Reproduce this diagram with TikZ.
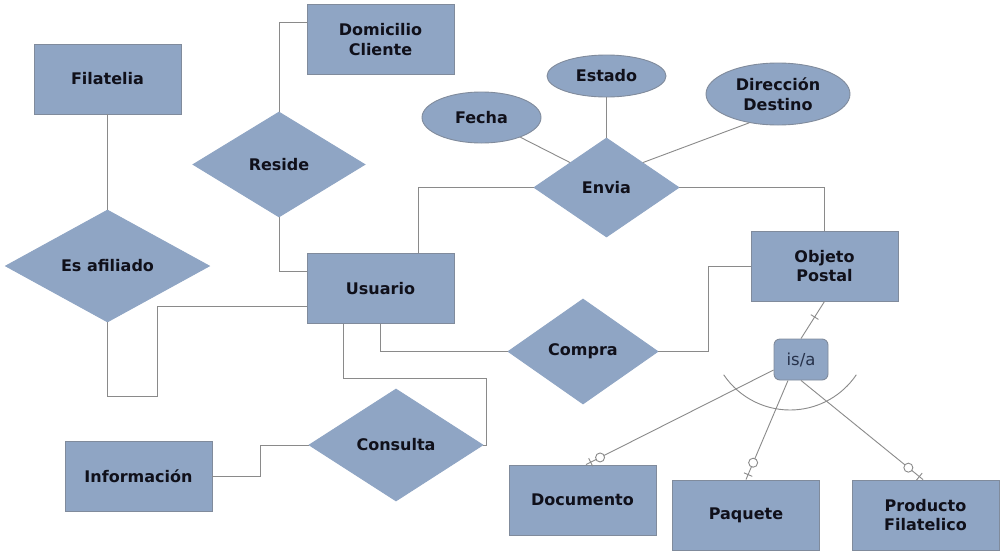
\documentclass[tikz,border=0pt]{standalone}
\usepackage{fontspec}
\setmainfont{DejaVu Sans}
\usetikzlibrary{shapes.geometric}
\definecolor{boxfill}{HTML}{8FA5C4}
\definecolor{boxline}{HTML}{808B9C}
\definecolor{linkgray}{HTML}{8A8A8A}
\definecolor{txt}{HTML}{10101A}
\definecolor{isatext}{HTML}{26314A}
\begin{document}
\begin{tikzpicture}[x=1pt,y=-1pt,
  base/.style={draw=boxline, fill=boxfill, line width=0.9pt, inner sep=0pt,
    text=txt, align=center, font=\fontsize{16}{19.5}\selectfont\bfseries},
  entity/.style={base, rectangle, minimum width=147pt, minimum height=70pt},
  rel/.style={base, diamond, shape aspect=1.8, draw=boxfill},
  attr/.style={base, ellipse},
  isabox/.style={base, rectangle, rounded corners=6pt, minimum width=54pt,
    minimum height=41pt, text=isatext, font=\fontsize{16.5}{20}\selectfont},
  link/.style={draw=linkgray, line width=0.9pt},
  circmark/.style={circle, draw=linkgray, fill=white, inner sep=0pt,
    minimum size=9pt, line width=0.9pt},
  tickmark/.style={rectangle, sloped, draw=linkgray, inner sep=0pt,
    minimum width=0pt, minimum height=9pt, line width=0.9pt}]
\useasboundingbox (0,0) rectangle (1004,555);
\fill[white] (0,0) rectangle (1004,555);

% entities
\node[entity] (fil) at (107.5,79) {Filatelia};
\node[entity] (dom) at (380.5,39.5) {Domicilio\\Cliente};
\node[entity] (usu) at (380.5,288.5) {Usuario};
\node[entity] (obj) at (824.5,266) {Objeto\\Postal};
\node[entity] (doc) at (582.5,500) {Documento};
\node[entity] (paq) at (746,515) {Paquete};
\node[entity] (pro) at (925.5,515) {Producto\\Filatelico};
\node[entity] (inf) at (138.5,476) {Información};

% relationships
\node[rel, minimum width=204pt, minimum height=112pt] (afi) at (107.5,266) {Es afiliado};
\node[rel, minimum width=172pt, minimum height=105pt] (res) at (279,164.5) {Reside};
\node[rel, minimum width=145pt, minimum height=99pt] (env) at (606.5,187.5) {Envia};
\node[rel, minimum width=150pt, minimum height=105pt] (com) at (583,351.5) {Compra};
\node[rel, minimum width=174pt, minimum height=112pt] (con) at (396,445) {Consulta};

% attributes
\node[attr, minimum width=119pt, minimum height=51pt] (fec) at (481.5,117.5) {Fecha};
\node[attr, minimum width=119pt, minimum height=42pt] (est) at (606.5,76) {Estado};
\node[attr, minimum width=144pt, minimum height=62pt] (dir) at (778,94) {Dirección\\Destino};

% is/a
\node[isabox] (isa) at (801,359.5) {is/a};

% bend points
\coordinate (a1) at (157,396);
\coordinate (a4) at (486.5,378);

% connectors
\draw[link] (fil.south) -- (afi.north);
\draw[link] (afi.south) |- (a1) |- ([yshift=-18pt]usu.west);
\draw[link] (res.north) |- ([yshift=17.5pt]dom.west);
\draw[link] (res.south) |- ([yshift=17.5pt]usu.west);
\draw[link] ([xshift=37.5pt]usu.north) |- (env.west);
\draw[link] (env.east) -| (obj.north);
\draw[link] (fec) -- (env.north west);
\draw[link] (est.south) -- (env.north);
\draw[link] (dir.225) -- (env.north east);
\draw[link] (usu.south) |- (com.west);
\draw[link] (com.east) -- ++(50pt,0) |- (obj.west);
\draw[link] ([xshift=-37.5pt]usu.south) |- (a4) |- (con.east);
\draw[link] (con.west) -- ++(-48pt,0) |- (inf.east);

% specialisation
\draw[link] (obj.south) -- node[tickmark, pos=0.42] {} (isa.north);
\draw[link] ([yshift=-10.5pt]isa.west) -- node[circmark, pos=0.925] {} node[tickmark, pos=0.975] {} ([xshift=3.5pt]doc.north);
\draw[link] ([xshift=-13pt]isa.south) -- node[circmark, pos=0.83] {} node[tickmark, pos=0.95] {} (paq.north);
\draw[link] (isa.south) -- node[circmark, pos=0.88] {} node[tickmark, pos=0.97] {} ([xshift=-2.5pt]pro.north);
\draw[link] ([shift={(-11pt,29.5pt)}]isa.center) ++(214:80pt) arc[start angle=214, end angle=326, radius=80pt];
\end{tikzpicture}
\end{document}
